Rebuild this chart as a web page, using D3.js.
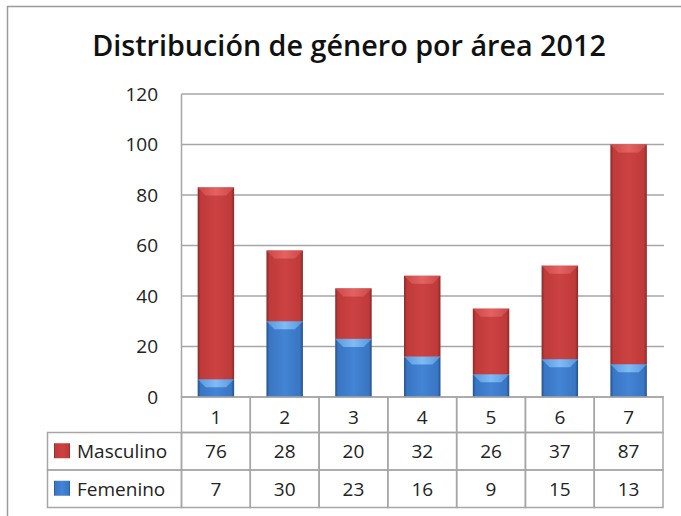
<!DOCTYPE html>
<meta charset="utf-8">
<style>
body { margin: 0; background: #fff; }
text { font-family: "Open Sans", Lato, sans-serif; fill: #222; }
.grid line { stroke: #a6a6a6; stroke-width: 1.5px; }
.cell { fill: none; stroke: #a6a6a6; stroke-width: 1.5px; }
</style>
<body>
<script src="https://cdn.jsdelivr.net/npm/d3@7"></script>
<script>

// data
var categories = ["1", "2", "3", "4", "5", "6", "7"];
var masculino = [76, 28, 20, 32, 26, 37, 87];
var femenino = [7, 30, 23, 16, 9, 15, 13];
var yTicks = [0, 20, 40, 60, 80, 100, 120];
var seriesNames = ["Masculino", "Femenino"];

var W = 681, H = 516;
var plotLeft = 181.5, plotRight = 663, plotTop = 94, plotBottom = 397;
var fs = "19px";

var svg = d3.select("body").append("svg")
    .attr("width", W)
    .attr("height", H);

// gradients for the bevelled bars
var defs = svg.append("defs");
function grad(id, stops) {
  var g = defs.append("linearGradient").attr("id", id)
      .attr("x1", 0).attr("x2", 1).attr("y1", 0).attr("y2", 0);
  stops.forEach(function(s) {
    g.append("stop").attr("offset", s[0]).attr("stop-color", s[1]);
  });
}
grad("red", [[0, "#8a2828"], [0.08, "#bf3a3a"], [0.5, "#cc4242"], [0.92, "#bf3a3a"], [1, "#8a2828"]]);
grad("blue", [[0, "#24508a"], [0.08, "#3976c4"], [0.5, "#4384d4"], [0.92, "#3976c4"], [1, "#24508a"]]);
grad("redTop", [[0, "#c94848"], [0.5, "#e66262"], [1, "#c94848"]]);
grad("blueTop", [[0, "#5596dc"], [0.5, "#80bbf5"], [1, "#5596dc"]]);

// outer frame
svg.append("rect")
    .attr("x", 7.5).attr("y", 6.5)
    .attr("width", 720).attr("height", 600)
    .attr("fill", "none")
    .attr("stroke", "#9a9a9a")
    .attr("stroke-width", 1.5);

// title, scaled to fit the reference width
var title = svg.append("text")
    .attr("x", 349).attr("y", 56)
    .attr("text-anchor", "middle")
    .style("font-weight", "600")
    .style("font-size", "26px")
    .style("fill", "#111")
    .text("Distribución de género por área 2012");
var tw = title.node().getComputedTextLength();
title.style("font-size", (26 * 514 / tw) + "px");

// scales
var x = d3.scaleBand().domain(categories).range([plotLeft, plotRight]);
var y = d3.scaleLinear().domain([0, 120]).range([plotBottom, plotTop]);

// gridlines
svg.append("g").attr("class", "grid")
  .selectAll("line").data(yTicks).enter().append("line")
    .attr("x1", plotLeft).attr("x2", plotRight + 1)
    .attr("y1", function(d) { return y(d); })
    .attr("y2", function(d) { return y(d); });
svg.append("line")
    .attr("x1", plotLeft).attr("x2", plotLeft)
    .attr("y1", plotTop).attr("y2", plotBottom)
    .style("stroke", "#a6a6a6").style("stroke-width", 1.5);

// y axis labels
svg.append("g").selectAll("text").data(yTicks).enter().append("text")
    .attr("x", 158)
    .attr("y", function(d) { return y(d); })
    .attr("dy", "0.36em")
    .attr("text-anchor", "end")
    .style("font-size", fs)
    .text(function(d) { return d; });

// stacked bars
var bw = x.bandwidth() * 0.53;
var stackData = categories.map(function(c, i) {
  return { cat: c, Femenino: femenino[i], Masculino: masculino[i] };
});
var stack = d3.stack().keys(["Femenino", "Masculino"])(stackData);
var fills = { Femenino: ["blue", "blueTop"], Masculino: ["red", "redTop"] };

stack.forEach(function(layer) {
  var g = svg.append("g");
  var bars = g.selectAll("g").data(layer).enter().append("g");
  bars.append("rect")
      .attr("x", function(d) { return x(d.data.cat) + (x.bandwidth() - bw) / 2; })
      .attr("y", function(d) { return y(d[1]); })
      .attr("width", bw)
      .attr("height", function(d) { return y(d[0]) - y(d[1]); })
      .attr("fill", "url(#" + fills[layer.key][0] + ")");
  // bevelled top
  bars.append("path")
      .attr("d", function(d) {
        var x0 = x(d.data.cat) + (x.bandwidth() - bw) / 2, y0 = y(d[1]), b = 8;
        return "M" + x0 + "," + y0 + "H" + (x0 + bw) +
          "L" + (x0 + bw - b) + "," + (y0 + b) + "H" + (x0 + b) + "Z";
      })
      .attr("fill", "url(#" + fills[layer.key][1] + ")");
});

// data table
var rowY = [397, 432.5, 470, 507.5];
var tableLeft = 47.5;

// category row
categories.forEach(function(c) {
  svg.append("rect").attr("class", "cell")
      .attr("x", x(c)).attr("y", rowY[0])
      .attr("width", x.bandwidth()).attr("height", rowY[1] - rowY[0]);
  svg.append("text")
      .attr("x", x(c) + x.bandwidth() / 2)
      .attr("y", (rowY[0] + rowY[1]) / 2 + 2)
      .attr("dy", "0.36em")
      .attr("text-anchor", "middle")
      .style("font-size", fs)
      .text(c);
});

var seriesValues = [masculino, femenino];
var legendFill = ["url(#red)", "url(#blue)"];
seriesNames.forEach(function(name, r) {
  var y0 = rowY[r + 1], y1 = rowY[r + 2], cy = (y0 + y1) / 2;
  svg.append("rect").attr("class", "cell")
      .attr("x", tableLeft).attr("y", y0)
      .attr("width", plotLeft - tableLeft).attr("height", y1 - y0);
  svg.append("rect")
      .attr("x", 54).attr("y", cy - 8)
      .attr("width", 16).attr("height", 15)
      .attr("fill", legendFill[r]);
  svg.append("text")
      .attr("x", 77).attr("y", cy)
      .attr("dy", "0.36em")
      .style("font-size", fs)
      .text(name);
  categories.forEach(function(c, i) {
    svg.append("rect").attr("class", "cell")
        .attr("x", x(c)).attr("y", y0)
        .attr("width", x.bandwidth()).attr("height", y1 - y0);
    svg.append("text")
        .attr("x", x(c) + x.bandwidth() / 2)
        .attr("y", cy)
        .attr("dy", "0.36em")
        .attr("text-anchor", "middle")
        .style("font-size", fs)
        .text(seriesValues[r][i]);
  });
});

</script>
</body>
